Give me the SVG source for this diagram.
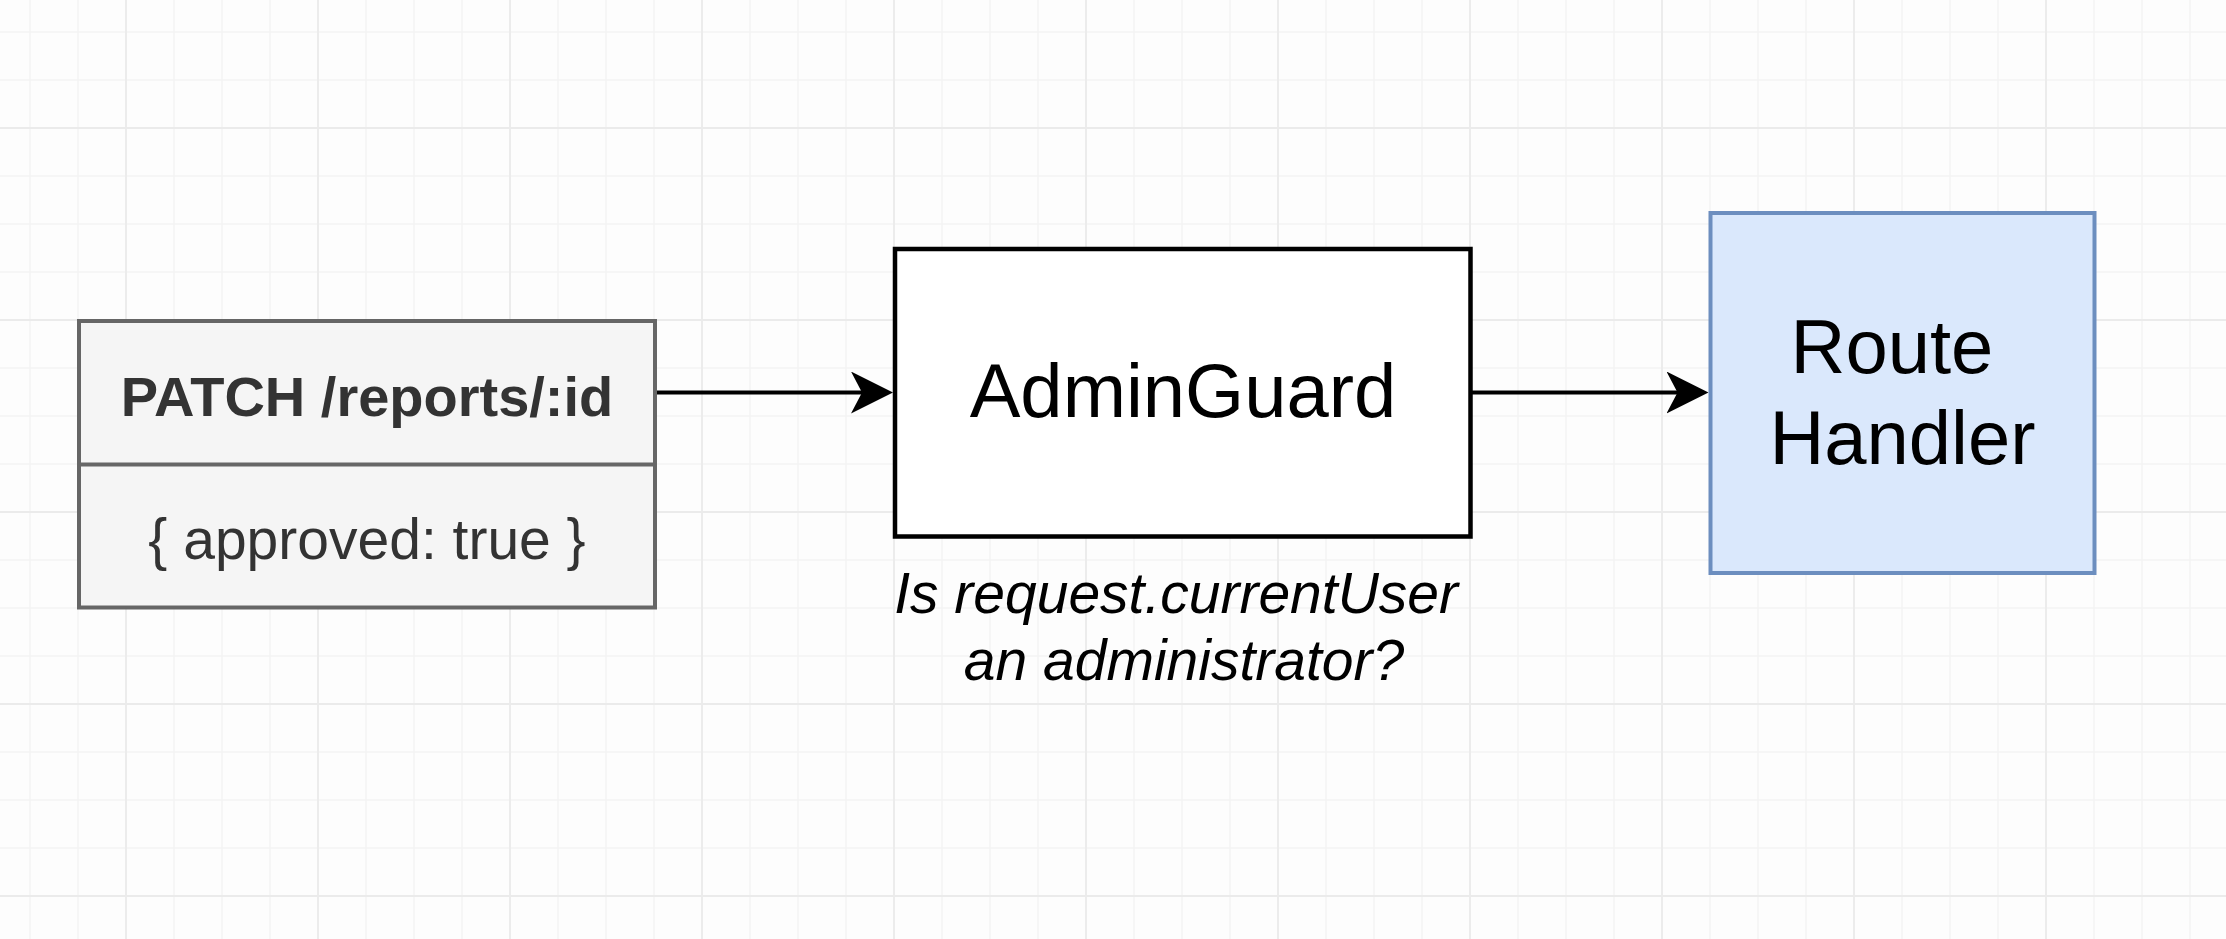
<svg xmlns="http://www.w3.org/2000/svg" width="2226" height="939" viewBox="0 0 2226 939">
  <style>
    .t { font-family: "Liberation Sans", Arial, Helvetica, sans-serif; }
    .gray { fill: #f5f5f5; stroke: #666666; stroke-width: 4; }
    .plain { fill: #ffffff; stroke: #000000; stroke-width: 4.5; }
    .blue { fill: #dae8fc; stroke: #6c8ebf; stroke-width: 4; }
    .edge { fill: none; stroke: #000000; stroke-width: 4; }
  </style>
  <defs>
    <pattern id="minor" width="48" height="48" patternUnits="userSpaceOnUse" x="6" y="8">
      <path d="M24 0V48M0 24H48" stroke="#f3f3f3" stroke-width="1.3" fill="none"/>
    </pattern>
    <pattern id="major" width="192" height="192" patternUnits="userSpaceOnUse" x="30" y="32">
      <path d="M96 0V192M0 96H192" stroke="#ebebeb" stroke-width="1.8" fill="none"/>
    </pattern>
    <marker id="arrow" viewBox="0 0 42 42" refX="19" refY="21" markerWidth="42" markerHeight="42" markerUnits="userSpaceOnUse" orient="auto">
      <path d="M0 0L42 21L0 42L11 21Z" fill="#000000"/>
    </marker>
  </defs>

  <rect x="0" y="0" width="2226" height="939" fill="#fdfdfd"/>
  <rect x="0" y="0" width="2226" height="939" fill="url(#minor)"/>
  <rect x="0" y="0" width="2226" height="939" fill="url(#major)"/>

  <g id="connectors">
    <path class="edge" d="M655 392.5H870" marker-end="url(#arrow)"/>
    <path class="edge" d="M1470.5 392.5H1685.5" marker-end="url(#arrow)"/>
  </g>

  <g id="request">
    <rect class="gray" x="79" y="321" width="576" height="286.5"/>
    <line x1="79" y1="464.5" x2="655" y2="464.5" stroke="#666666" stroke-width="4"/>
    <text class="t" x="367" y="416" font-size="56" font-weight="bold" fill="#333333" text-anchor="middle">PATCH /reports/:id</text>
    <text class="t" x="367" y="559" font-size="57" fill="#333333" text-anchor="middle">{ approved: true }</text>
  </g>

  <g id="adminguard">
    <rect class="plain" x="895" y="249" width="575.5" height="287.5"/>
    <text class="t" x="1183" y="417" font-size="76" fill="#000000" text-anchor="middle">AdminGuard</text>
  </g>

  <g id="adminguard-note">
    <text class="t" font-size="57" font-style="italic" fill="#000000" text-anchor="middle">
      <tspan x="1184" y="613">Is request.currentUser</tspan>
      <tspan x="1184" y="680">an administrator?</tspan>
    </text>
  </g>

  <g id="route-handler">
    <rect class="blue" x="1710.5" y="213" width="384" height="360"/>
    <text class="t" font-size="76" fill="#000000" text-anchor="middle">
      <tspan x="1902.5" y="373">Route</tspan>
      <tspan x="1902.5" y="464">Handler</tspan>
    </text>
  </g>
</svg>
